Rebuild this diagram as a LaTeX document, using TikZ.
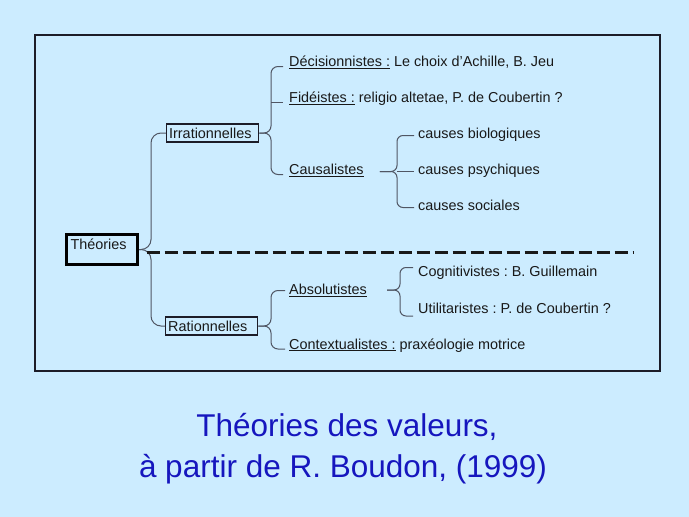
\documentclass[tikz,border=0pt]{standalone}
\usepackage{fontspec}
\setmainfont{Liberation Sans}
\usetikzlibrary{calc}
\definecolor{bg}{RGB}{204,236,255}
\definecolor{framecol}{RGB}{28,28,40}
\definecolor{conncol}{RGB}{80,86,100}
\definecolor{txt}{RGB}{25,25,25}
\definecolor{titleblue}{RGB}{22,22,190}
\newcommand\myul[1]{\setbox0\hbox{#1}\rlap{\rule[-2.2pt]{\wd0}{0.9pt}}\box0\relax}
\frenchspacing
\begin{document}
\begin{tikzpicture}[x=1pt,y=-1pt,
  lbl/.style={inner sep=0pt, anchor=base west, text=txt, font=\fontsize{14.4}{17}\selectfont},
  boxnode/.style={draw=framecol, line width=1.3pt, anchor=west, inner xsep=2.5pt, inner ysep=0pt,
    minimum height=18pt, text height=10.3pt, text depth=0pt, align=left, text=txt,
    font=\fontsize{14.4}{17}\selectfont},
  theobox/.style={draw=black, line width=3pt, anchor=north west, inner xsep=4pt, inner ysep=1pt,
    text width=63pt, text height=14pt, text depth=14pt, align=left, text=txt,
    font=\fontsize{14.4}{17}\selectfont},
  conn/.style={draw=conncol, line width=1pt},
  dashln/.style={draw=black!90, line width=3pt, dash pattern=on 13pt off 5pt},
  titletxt/.style={anchor=base, text=titleblue, inner sep=0pt, font=\fontsize{31.5}{36}\selectfont}]
\fill[bg] (0,0) rectangle (689,517);
\useasboundingbox (0,0) rectangle (689,517);
\draw[framecol, line width=2pt] (35,35) rectangle (660,371);

% spine coordinates
\coordinate (s0) at (151,0);
\coordinate (s1) at (271,0);
\coordinate (s2) at (397,0);
\coordinate (s3) at (400,0);
\coordinate (dashend) at (633,252);

% boxes
\node[theobox] (theo) at (65,233) {Théories};
\node[boxnode, text width=87pt] (irr) at (166,133) {Irrationnelles};
\node[boxnode, text width=87pt] (rat) at (165,326) {Rationnelles};

% labels
\node[lbl] (dec) at (289,66.5) {\myul{Décisionnistes :} Le choix d'Achille, B. Jeu};
\node[lbl] (fid) at (289,102.5) {\myul{Fidéistes :} religio altetae, P. de Coubertin ?};
\node[lbl] (cau) at (289,174.5) {\myul{Causalistes}};
\node[lbl] (bio) at (418,138.5) {causes biologiques};
\node[lbl] (psy) at (418,174.5) {causes psychiques};
\node[lbl] (soc) at (418,210.5) {causes sociales};
\node[lbl] (cog) at (418,276.5) {Cognitivistes : B. Guillemain};
\node[lbl] (abs) at (289,294.5) {\myul{Absolutistes}};
\node[lbl] (uti) at (418,313) {Utilitaristes : P. de Coubertin ?};
\node[lbl] (ctx) at (289,349) {\myul{Contextualistes :} praxéologie motrice};

% Theories braces
\draw[conn, rounded corners=10pt] (theo.east) -- (theo.east -| s0) -- (irr.west -| s0) -- (irr.west);
\draw[conn, rounded corners=10pt] (theo.east) -- (theo.east -| s0) -- (rat.west -| s0) -- (rat.west);

% dashed separator
\draw[dashln] ([xshift=7.5pt]theo.east |- dashend) -- (dashend);

% Irrationnelles brace
\draw[conn, rounded corners=7pt] (irr.east) -- (irr.east -| s1) -- (dec.base west -| s1) -- ([xshift=-6pt]dec.base west);
\draw[conn] (fid.base west -| s1) -- ([xshift=-6pt]fid.base west);
\draw[conn, rounded corners=7pt] (irr.east) -- (irr.east -| s1) -- (cau.base west -| s1) -- ([xshift=-6pt]cau.base west);

% Causalistes brace
\coordinate (ctip) at ([xshift=16pt,yshift=3pt]cau.base east);
\draw[conn, rounded corners=6pt] (ctip) -- (ctip -| s2) -- ([yshift=3pt]bio.base west -| s2) -- ([xshift=-4pt,yshift=3pt]bio.base west);
\draw[conn] (ctip -| s2) -- ([xshift=-4pt,yshift=3pt]psy.base west);
\draw[conn, rounded corners=6pt] (ctip) -- (ctip -| s2) -- ([yshift=3pt]soc.base west -| s2) -- ([xshift=-4pt,yshift=3pt]soc.base west);

% Rationnelles brace
\draw[conn, rounded corners=7pt] (rat.east) -- (rat.east -| s1) -- ([yshift=4pt]abs.base west -| s1) -- ([xshift=-4pt,yshift=4pt]abs.base west);
\draw[conn, rounded corners=7pt] (rat.east) -- (rat.east -| s1) -- (ctx.base west -| s1) -- ([xshift=-4pt]ctx.base west);

% Absolutistes brace
\coordinate (atip) at ([xshift=20pt,yshift=4.5pt]abs.base east);
\draw[conn, rounded corners=6pt] (atip) -- (atip -| s3) -- ([yshift=9pt]cog.base west -| s3) -- ([xshift=-5pt,yshift=9pt]cog.base west);
\draw[conn, rounded corners=6pt] (atip) -- (atip -| s3) -- ([yshift=-3pt]uti.base west -| s3) -- ([xshift=-5pt,yshift=-3pt]uti.base west);

% title
\node[titletxt] (t1) at (347,436) {Théories des valeurs,};
\node[titletxt] (t2) at (343,477) {à partir de R. Boudon, (1999)};
\end{tikzpicture}
\end{document}
